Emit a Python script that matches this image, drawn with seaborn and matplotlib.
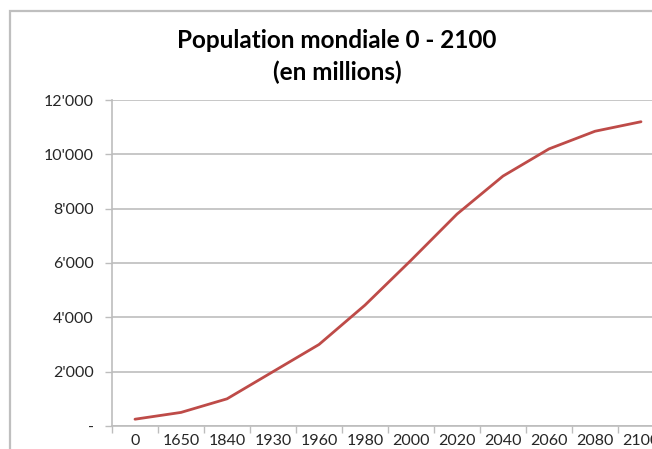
import matplotlib
matplotlib.use("Agg")
import matplotlib.pyplot as plt
from matplotlib.patches import Rectangle
from matplotlib.ticker import FuncFormatter
import seaborn as sns
import pandas as pd

# World population (millions), years shown as evenly spaced categories
years = ["0", "1650", "1840", "1930", "1960", "1980", "2000", "2020", "2040", "2060", "2080", "2100"]
population = [250, 500, 1000, 2000, 3000, 4450, 6100, 7800, 9200, 10200, 10850, 11200]

df = pd.DataFrame({"pos": range(len(years)), "year": years, "population": population})

sns.set_theme(style="white")
plt.rcParams["font.family"] = ["Lato", "DejaVu Sans"]

W, H = 652, 449
fig = plt.figure(figsize=(W / 100, H / 100), dpi=100)
fig.patch.set_facecolor("white")

# chart frame (open to the right and bottom)
fig.patches.append(Rectangle((9.5 / W, -0.1), 2.0, 1 - 11 / H + 0.1,
                             transform=fig.transFigure, fill=False,
                             edgecolor="#bfbfbf", linewidth=1.6, zorder=0))

ax = fig.add_axes([112 / W, 23 / H, 552 / W, 326 / H])
sns.lineplot(data=df, x="pos", y="population", ax=ax, color="#be4b48",
             linewidth=2.0, solid_joinstyle="round", solid_capstyle="round")

ax.set_xlim(-0.5, len(years) - 0.5)
ax.set_ylim(0, 12000)
ax.set_yticks(range(0, 12001, 2000))
ax.yaxis.set_major_formatter(FuncFormatter(
    lambda v, _: "-" if v == 0 else f"{int(v):,}".replace(",", "'")))
ax.set_xticks([i + 0.5 for i in range(-1, len(years))], minor=False)
ax.set_xticklabels([])
ax.set_xticks(range(len(years)), minor=True)
ax.set_xticklabels(years, minor=True)

ax.grid(axis="y", color="#bdbdbd", linewidth=1.2)
ax.grid(axis="x", visible=False)
ax.set_axisbelow(True)
for side in ("top", "right"):
    ax.spines[side].set_visible(False)
for side in ("left", "bottom"):
    ax.spines[side].set_color("#bdbdbd")
    ax.spines[side].set_linewidth(1.2)

ax.tick_params(axis="both", which="major", length=5, width=1.0, color="#bdbdbd",
               direction="out", left=True, bottom=True, labelsize=11.5,
               labelcolor="#262626")
ax.tick_params(axis="y", pad=8)
ax.tick_params(axis="x", which="minor", length=0, labelsize=11.5,
               labelcolor="#262626", pad=6)
ax.set_xlabel("")
ax.set_ylabel("")

fig.text(337 / W, 1 - 40 / H, "Population mondiale 0 - 2100", ha="center", va="center",
         fontsize=17.5, fontweight="bold", color="black")
fig.text(337 / W, 1 - 72 / H, "(en millions)", ha="center", va="center",
         fontsize=17.5, fontweight="bold", color="black")

fig.savefig("out.png", dpi=100)
